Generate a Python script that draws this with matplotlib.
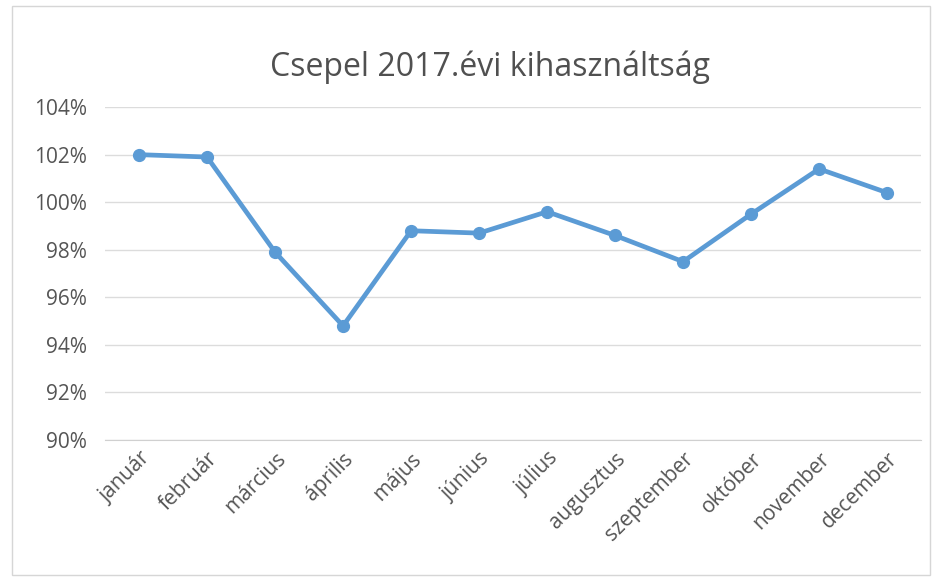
import matplotlib
matplotlib.use("Agg")
import matplotlib.pyplot as plt
from matplotlib.ticker import FuncFormatter
from matplotlib.patches import Rectangle

months = ["január", "február", "március", "április", "május", "június",
          "július", "augusztus", "szeptember", "október", "november", "december"]
utilization = [102.0, 101.9, 97.9, 94.8, 98.8, 98.7, 99.6, 98.6, 97.5, 99.5, 101.4, 100.4]
yticks = [90, 92, 94, 96, 98, 100, 102, 104]
title = "Csepel 2017.évi kihasználtság"

plt.rcParams['font.family'] = ['Open Sans', 'DejaVu Sans']

fig = plt.figure(figsize=(9.38, 5.82), dpi=100)
fig.patch.set_facecolor("white")
fig.patches.append(Rectangle((0.013, 0.012), 0.978, 0.978, transform=fig.transFigure,
                             fill=False, edgecolor="#d6d6d6", linewidth=1))

ax = fig.add_axes([0.112, 0.244, 0.87, 0.572])
x = list(range(len(months)))
ax.plot(x, utilization, color="#5b9bd5", linewidth=3.4, marker="o", markersize=8.5,
        markerfacecolor="#5b9bd5", markeredgecolor="#5b9bd5", zorder=3)

ax.set_ylim(90, 104)
ax.set_yticks(yticks)
ax.yaxis.set_major_formatter(FuncFormatter(lambda v, p: f"{v:.0f}%"))
ax.set_xlim(-0.5, len(months) - 0.5)
ax.set_xticks(x)
ax.set_xticklabels(months, rotation=45, ha="right", rotation_mode="anchor")
ax.grid(axis="y", color="#dcdcdc", linewidth=1)
ax.set_axisbelow(True)
for s in ["top", "right", "left"]:
    ax.spines[s].set_visible(False)
ax.spines["bottom"].set_color("#d0d0d0")
ax.tick_params(axis="y", length=0, labelsize=15, colors="#555555", pad=13)
ax.tick_params(axis="x", length=0, labelsize=15, colors="#555555", pad=6)

fig.text(0.522, 0.885, title, ha="center", va="center", fontsize=23, color="#505050")

fig.savefig("out.png", dpi=100)
